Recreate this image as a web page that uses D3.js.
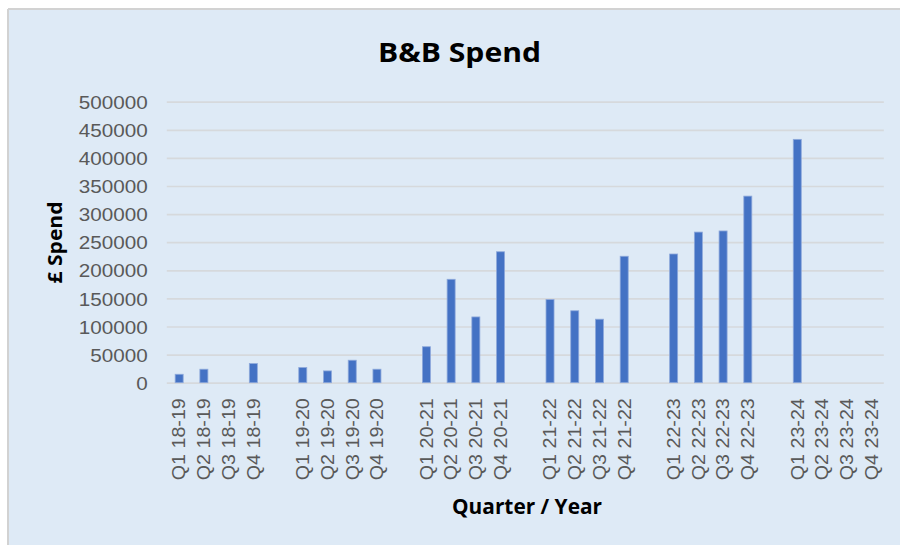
<!DOCTYPE html>
<html>
<head>
<meta charset="utf-8">
<script src="https://cdn.jsdelivr.net/npm/d3@7"></script>
<style>
  html, body { margin: 0; padding: 0; background: #ffffff; }
  svg { display: block; }
</style>
</head>
<body>
<svg id="chart" width="900" height="545"></svg>
<script>
// ---- data ----
const categories = [
  "Q1 18-19","Q2 18-19","Q3 18-19","Q4 18-19","",
  "Q1 19-20","Q2 19-20","Q3 19-20","Q4 19-20","",
  "Q1 20-21","Q2 20-21","Q3 20-21","Q4 20-21","",
  "Q1 21-22","Q2 21-22","Q3 21-22","Q4 21-22","",
  "Q1 22-23","Q2 22-23","Q3 22-23","Q4 22-23","",
  "Q1 23-24","Q2 23-24","Q3 23-24","Q4 23-24"
];
const spend = [
  15000, 24000, null, 34000, null,
  27000, 21000, 40000, 24000, null,
  64000, 184000, 117000, 233000, null,
  148000, 128000, 113000, 225000, null,
  229000, 268000, 270000, 332000, null,
  433000, null, null, null
];
const yTicks = [0, 50000, 100000, 150000, 200000, 250000, 300000, 350000, 400000, 450000, 500000];
const title = "B&B Spend";
const xTitle = "Quarter / Year";
const yTitle = "£ Spend";

// ---- layout ----
const svg = d3.select("#chart");
const plot = { left: 166.8, right: 883.8, top: 101.7, bottom: 382.7 };

// panel background
svg.append("rect").attr("x", 8).attr("y", 9).attr("width", 892).attr("height", 536)
  .attr("fill", "#DEEAF6");
svg.append("line").attr("x1", 8).attr("x2", 900).attr("y1", 9).attr("y2", 9)
  .attr("stroke", "#D2D2D2").attr("stroke-width", 2);
svg.append("line").attr("x1", 8).attr("x2", 8).attr("y1", 9).attr("y2", 545)
  .attr("stroke", "#D2D2D2").attr("stroke-width", 2);

const idx = categories.map((d, i) => i);
const x = d3.scaleBand().domain(idx).range([plot.left, plot.right])
  .paddingInner(0.676).paddingOuter(0.338);
const y = d3.scaleLinear().domain([0, 500000]).range([plot.bottom, plot.top]);

// gridlines
const yAxis = d3.axisLeft(y).tickValues(yTicks).tickSize(-(plot.right - plot.left)).tickPadding(19)
  .tickFormat(d3.format("d"));
const gy = svg.append("g").attr("transform", `translate(${plot.left},0)`).call(yAxis);
gy.select(".domain").remove();
gy.selectAll(".tick line").attr("stroke", "#D6D9DC").attr("stroke-width", 1.7);
gy.selectAll(".tick text")
  .attr("fill", "#595959")
  .style("font-family", "'Liberation Sans', Arial, sans-serif")
  .style("font-size", "18.5px")
  .attr("dy", "0.36em")
  .attr("textLength", function() { return this.textContent.length * 11.5; })
  .attr("lengthAdjust", "spacingAndGlyphs");

// bars
svg.append("g").selectAll("rect")
  .data(spend.map((v, i) => ({ i, v })).filter(d => d.v != null))
  .join("rect")
  .attr("x", d => x(d.i))
  .attr("width", x.bandwidth())
  .attr("y", d => y(d.v))
  .attr("height", d => y(0) - y(d.v))
  .attr("fill", "#4472C4")
  .attr("stroke", "#8EA9DB")
  .attr("stroke-width", 0.8);

// x axis labels
const xAxis = d3.axisBottom(x).tickSize(0).tickFormat(i => categories[i]);
const gx = svg.append("g").attr("transform", `translate(0,${plot.bottom})`).call(xAxis);
gx.select(".domain").remove();
gx.selectAll(".tick text")
  .attr("fill", "#595959")
  .style("font-family", "'Liberation Sans', Arial, sans-serif")
  .style("font-size", "17.5px")
  .attr("text-anchor", "end")
  .attr("transform", "rotate(-90)")
  .attr("x", -15.5)
  .attr("y", 0)
  .attr("dy", "0.36em")
  .attr("textLength", function() { return this.textContent ? 82 : null; })
  .attr("lengthAdjust", "spacingAndGlyphs");

// titles
svg.append("text").attr("x", 459.5).attr("y", 61.5).attr("text-anchor", "middle")
  .style("font-family", "'Open Sans', sans-serif").style("font-weight", "700")
  .style("font-size", "26px").attr("fill", "#000")
  .attr("textLength", 163).attr("lengthAdjust", "spacingAndGlyphs")
  .text(title);

svg.append("text").attr("x", 527).attr("y", 514).attr("text-anchor", "middle")
  .style("font-family", "'Open Sans', sans-serif").style("font-weight", "700")
  .style("font-size", "20.5px").attr("fill", "#000")
  .attr("textLength", 150).attr("lengthAdjust", "spacingAndGlyphs")
  .text(xTitle);

svg.append("text").attr("transform", "translate(62,242.5) rotate(-90)").attr("text-anchor", "middle")
  .style("font-family", "'Open Sans', sans-serif").style("font-weight", "700")
  .style("font-size", "19px").attr("fill", "#000")
  .attr("textLength", 82).attr("lengthAdjust", "spacingAndGlyphs")
  .text(yTitle);
</script>
</body>
</html>
